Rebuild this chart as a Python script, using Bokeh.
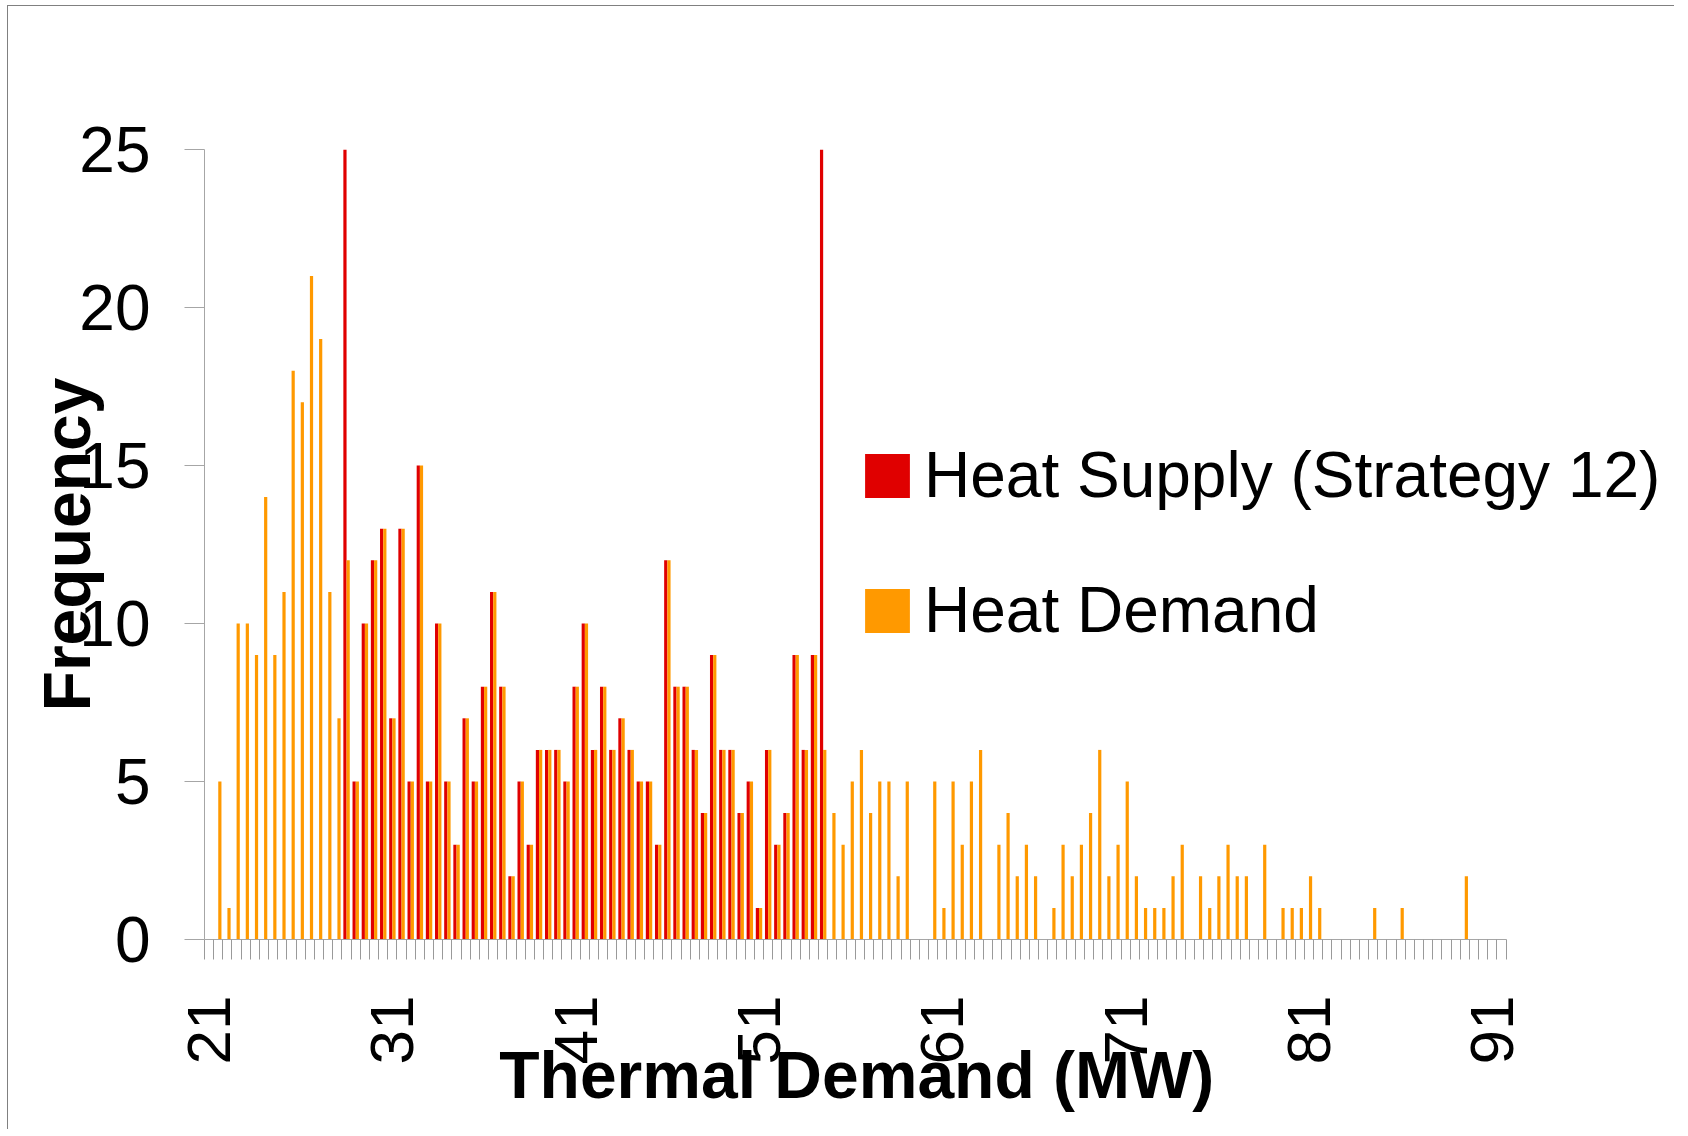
from math import pi
from bokeh.plotting import figure
from bokeh.models import (Range1d, FixedTicker, Legend, LegendItem, Title,
                          ColumnDataSource)
from bokeh.transform import dodge
from bokeh.embed import file_html
from bokeh.resources import INLINE

# ---- data -------------------------------------------------------------
# histogram bins of thermal demand (MW), 0.5 MW wide, 21 ... 91.5
bins = [21 + 0.5 * i for i in range(142)]

heat_demand = [
    0, 5, 1, 10, 10, 9, 14, 9, 11, 18,
    17, 21, 19, 11, 7, 12, 5, 10, 12, 13,
    7, 13, 5, 15, 5, 10, 5, 3, 7, 5,
    8, 11, 8, 2, 5, 3, 6, 6, 6, 5,
    8, 10, 6, 8, 6, 7, 6, 5, 5, 3,
    12, 8, 8, 6, 4, 9, 6, 6, 4, 5,
    1, 6, 3, 4, 9, 6, 9, 6, 4, 3,
    5, 6, 4, 5, 5, 2, 5, 0, 0, 5,
    1, 5, 3, 5, 6, 0, 3, 4, 2, 3,
    2, 0, 1, 3, 2, 3, 4, 6, 2, 3,
    5, 2, 1, 1, 1, 2, 3, 0, 2, 1,
    2, 3, 2, 2, 0, 3, 0, 1, 1, 1,
    2, 1, 0, 0, 0, 0, 0, 1, 0, 0,
    1, 0, 0, 0, 0, 0, 0, 2, 0, 0,
    0, 0,
]

heat_supply = [
    0, 0, 0, 0, 0, 0, 0, 0, 0, 0,
    0, 0, 0, 0, 0, 174, 5, 10, 12, 13,
    7, 13, 5, 15, 5, 10, 5, 3, 7, 5,
    8, 11, 8, 2, 5, 3, 6, 6, 6, 5,
    8, 10, 6, 8, 6, 7, 6, 5, 5, 3,
    12, 8, 8, 6, 4, 9, 6, 6, 4, 5,
    1, 6, 3, 4, 9, 6, 9, 148, 0, 0,
    0, 0, 0, 0, 0, 0, 0, 0, 0, 0,
    0, 0, 0, 0, 0, 0, 0, 0, 0, 0,
    0, 0, 0, 0, 0, 0, 0, 0, 0, 0,
    0, 0, 0, 0, 0, 0, 0, 0, 0, 0,
    0, 0, 0, 0, 0, 0, 0, 0, 0, 0,
    0, 0, 0, 0, 0, 0, 0, 0, 0, 0,
    0, 0, 0, 0, 0, 0, 0, 0, 0, 0,
    0, 0,
]

x_tick_labels = bins[::20]          # 21, 31, ..., 91
y_ticks = [0, 5, 10, 15, 20, 25]

series_names = ["Heat Supply (Strategy 12)", "Heat Demand"]
series_colors = ["#E00000", "#FF9900"]

# ---- figure -----------------------------------------------------------
step = bins[1] - bins[0]
x_start, x_end = bins[0] - step / 2, bins[-1] + step / 2
boundaries = [b - step / 2 for b in bins] + [x_end]

FONT = "Liberation Sans"
AXIS_PX = 1301.5                       # length of the category axis
FRAME_W = 1470                         # frame also hosts the legend
px_per_unit = AXIS_PX / (x_end - x_start)

p = figure(
    output_backend="svg", toolbar_location=None,
    frame_width=FRAME_W, frame_height=790,
    min_border_left=196, min_border_top=143,
    min_border_right=0, min_border_bottom=190,
    x_range=Range1d(x_start, x_start + FRAME_W / px_per_unit),
    y_range=Range1d(0, 25),
    background_fill_color="white", border_fill_color="white",
)
p.styles = {"border-top": "1px solid #808080", "border-left": "1px solid #808080",
            "margin-left": "7px", "margin-top": "5px"}
p.outline_line_color = None
p.grid.visible = False

src = ColumnDataSource(dict(bins=bins, supply=heat_supply, demand=heat_demand))
bw = step * 0.35
r_sup = p.vbar(x=dodge("bins", -bw / 2, range=p.x_range), top="supply", width=bw,
               source=src, fill_color=series_colors[0], line_color=None)
r_dem = p.vbar(x=dodge("bins", bw / 2, range=p.x_range), top="demand", width=bw,
               source=src, fill_color=series_colors[1], line_color=None)

# x axis
xa = p.xaxis[0]
xa.bounds = (x_start, x_end)
xa.ticker = FixedTicker(ticks=x_tick_labels, minor_ticks=boundaries)
xa.major_label_orientation = pi / 2
xa.major_tick_line_color = None
xa.major_tick_out = 20
xa.major_tick_in = 0
xa.minor_tick_out = 20
xa.minor_tick_in = 0
xa.minor_tick_line_color = "#9a9a9a"
xa.axis_line_color = "#a6a6a6"
xa.major_label_text_font = FONT
xa.major_label_text_font_size = "62px"
xa.major_label_text_color = "black"
xa.major_label_standoff = 36

# x axis title, placed under the centre of the category axis
p.add_layout(Title(text="Thermal Demand (MW)", align="left",
                   vertical_align="top",
                   offset=AXIS_PX / 2 - 356, standoff=-60,
                   text_font=FONT, text_font_size="66px",
                   text_font_style="bold", text_color="black"), "below")

# y axis
ya = p.yaxis[0]
ya.ticker = FixedTicker(ticks=y_ticks)
ya.major_tick_out = 20
ya.major_tick_in = 0
ya.minor_tick_line_color = None
ya.major_tick_line_color = "#a6a6a6"
ya.axis_line_color = "#a6a6a6"
ya.major_label_text_font = FONT
ya.major_label_text_font_size = "64px"
ya.major_label_text_color = "black"
ya.major_label_standoff = 34
ya.axis_label = "Frequency"
ya.axis_label_text_font = FONT
ya.axis_label_text_font_size = "66px"
ya.axis_label_text_font_style = "bold"
ya.axis_label_text_color = "black"
ya.axis_label_standoff = -28

# legend
legend = Legend(
    items=[LegendItem(label=series_names[0], renderers=[r_sup]),
           LegendItem(label=series_names[1], renderers=[r_dem])],
    location=(655, 292), orientation="vertical",
    glyph_width=56, glyph_height=55, label_standoff=9,
    label_text_font=FONT, label_text_font_size="64px",
    label_text_color="black",
    spacing=61, padding=0, margin=0,
    border_line_color=None, background_fill_alpha=0,
)
p.add_layout(legend)

open("out.html", "w").write(file_html(p, INLINE))
